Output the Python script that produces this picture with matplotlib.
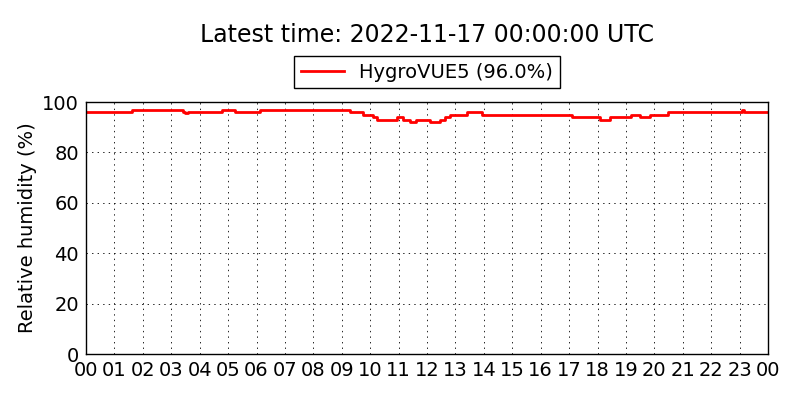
import matplotlib
matplotlib.use('Agg')
import matplotlib.pyplot as plt
import numpy as np

TITLE = 'Latest time: 2022-11-17 00:00:00 UTC'
LABEL = 'HygroVUE5 (96.0%)'

# step start times (hours since 2022-11-16 00:00 UTC) and humidity (%)
hours = [0.0, 1.61, 3.42, 3.50, 3.60, 4.78, 4.90, 5.24, 6.13, 9.29, 9.75,
         10.10, 10.24, 10.93, 11.16, 11.40, 11.63, 12.10,
         12.46, 12.63, 12.80, 13.40, 13.92, 17.10, 18.10, 18.44, 19.18,
         19.49, 19.84, 20.49, 23.10, 23.16, 24.0]
humidity = [96, 97, 96, 95.7, 96, 96.7, 97, 96, 97, 96, 95,
            94, 93, 94, 93, 92, 93, 92,
            93, 94, 95, 96, 95, 94, 93, 94, 95,
            94, 95, 96, 97, 96, 96]
tick_hours = list(range(0, 25))
tick_labels = ['%02d' % (h % 24) for h in tick_hours]


def main():
  plt.rcParams['lines.scale_dashes'] = False
  fig = plt.figure(figsize=(8, 4), dpi=100)
  ax = fig.add_axes([86 / 800, 46 / 400, 682 / 800, 252 / 400])

  line, = ax.step(hours, humidity, where='post', color='red', lw=2, label=LABEL)

  ax.set_xlim(0, 24)
  ax.set_ylim(0, 100)
  ax.set_xticks(tick_hours)
  ax.set_xticklabels(tick_labels)
  ax.set_yticks(range(0, 101, 20))
  ax.tick_params(labelsize=14, length=0, pad=5)
  ax.grid(True, color='black', linestyle=(0, (1, 3)), linewidth=0.6)
  ax.set_ylabel('Relative humidity (%)', fontsize=14)

  for s in ax.spines.values():
    s.set_linewidth(1.0)

  leg = fig.legend(handles=[line], loc='center', bbox_to_anchor=(427 / 800, 1 - 72 / 400),
                   fontsize=14, fancybox=False, framealpha=1, edgecolor='black',
                   handlelength=2.2, borderpad=0.35)
  leg.get_frame().set_linewidth(1.0)

  fig.text(427 / 800, 1 - 35 / 400, TITLE, ha='center', va='center', fontsize=17)

  fig.savefig('out.png', dpi=100, facecolor='white')


if __name__ == '__main__':
  main()
